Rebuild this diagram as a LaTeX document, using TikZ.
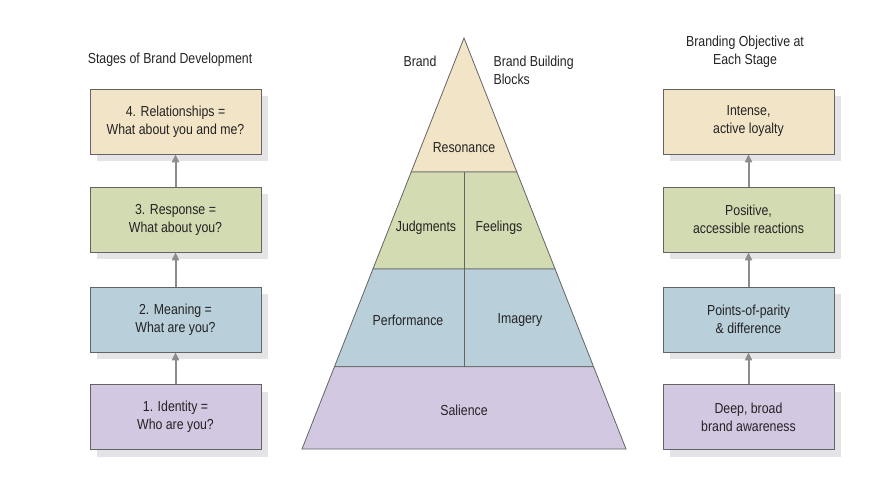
\documentclass[tikz,border=0pt]{standalone}
\usepackage{fontspec}
\setmainfont{Liberation Sans}[FakeStretch=0.85]
\usepackage{tikz}
\usetikzlibrary{arrows.meta,positioning,calc,shadows}
\usepackage{xcolor}
\definecolor{stagetan}{RGB}{242,228,198}
\definecolor{stagegreen}{RGB}{211,219,178}
\definecolor{stageblue}{RGB}{185,207,218}
\definecolor{stagepurple}{RGB}{211,200,226}
\definecolor{edgegrey}{RGB}{100,100,100}
\definecolor{shadegrey}{RGB}{228,228,230}
\definecolor{arrowgrey}{RGB}{140,140,140}
\definecolor{textgrey}{RGB}{35,35,35}
\tikzset{
    sbox/.style={draw=edgegrey, fill=#1, line width=0.8pt,
                 minimum width=171pt, minimum height=65pt,
                 align=center, text=textgrey,
                 font=\fontsize{14.5}{18}\selectfont,
                 drop shadow={shadow xshift=7pt, shadow yshift=-7pt,
                              fill=shadegrey, opacity=1}},
    head/.style={align=center, text=textgrey,
                 font=\fontsize{14.5}{18}\selectfont},
    block/.style={text=textgrey, font=\fontsize{14.5}{18}\selectfont},
    layer/.style={draw=edgegrey, fill=#1, line width=0.8pt},
}

\begin{document}
\begin{tikzpicture}[
    x=1pt, y=-1pt,
    arr/.style={-{Triangle[length=8pt, width=7pt]}, line width=2pt, arrowgrey}
]
    \useasboundingbox (0,0) rectangle (894,482);

    % stages column
    \node[head] (stagehead) at (170,60) {Stages of Brand Development};
    \node[sbox=stagetan] (stage4) at (175.5,121.5) {4. Relationships =\\What about you and me?};
    \node[sbox=stagegreen] (stage3) at (175.5,219.5) {3. Response =\\What about you?};
    \node[sbox=stageblue] (stage2) at (175.5,319.5) {2. Meaning =\\What are you?};
    \node[sbox=stagepurple] (stage1) at (175.5,417) {1. Identity =\\Who are you?};

    \draw[arr] (stage1.north) -- (stage2.south);
    \draw[arr] (stage2.north) -- (stage3.south);
    \draw[arr] (stage3.north) -- (stage4.south);

    % objectives column
    \node[head] (objhead) at (745,52) {Branding Objective at\\Each Stage};
    \node[sbox=stagetan] (obj4) at (748.5,121.5) {Intense,\\active loyalty};
    \node[sbox=stagegreen] (obj3) at (748.5,219.5) {Positive,\\accessible reactions};
    \node[sbox=stageblue] (obj2) at (748.5,319.5) {Points-of-parity\\\& difference};
    \node[sbox=stagepurple] (obj1) at (748.5,417) {Deep, broad\\brand awareness};

    \draw[arr] (obj1.north) -- (obj2.south);
    \draw[arr] (obj2.north) -- (obj3.south);
    \draw[arr] (obj3.north) -- (obj4.south);

    % pyramid
    \coordinate (apex) at (464,38);
    \coordinate (bl) at (302,449);
    \coordinate (br) at (626,449);
    \coordinate (l1) at ($(apex)!0.326!(bl)$);
    \coordinate (r1) at ($(apex)!0.326!(br)$);
    \coordinate (l2) at ($(apex)!0.562!(bl)$);
    \coordinate (r2) at ($(apex)!0.562!(br)$);
    \coordinate (l3) at ($(apex)!0.800!(bl)$);
    \coordinate (r3) at ($(apex)!0.800!(br)$);

    \fill[shadegrey, shift={(6,6)}] (apex) -- (br) -- (bl) -- cycle;
    \draw[layer=stagetan] (apex) -- (r1) -- (l1) -- cycle;
    \draw[layer=stagegreen] (l1) -- (r1) -- (r2) -- (l2) -- cycle;
    \draw[layer=stageblue] (l2) -- (r2) -- (r3) -- (l3) -- cycle;
    \draw[layer=stagepurple] (l3) -- (r3) -- (br) -- (bl) -- cycle;
    \draw[edgegrey, line width=0.8pt] (464,172) -- (464,367);

    \node[block] (resonance) at (464,148) {Resonance};
    \node[block] (judgments) at (426,228) {Judgments};
    \node[block] (feelings) at (499,228) {Feelings};
    \node[block] (performance) at (408,320) {Performance};
    \node[block] (imagery) at (520,320) {Imagery};
    \node[block] (salience) at (464,410) {Salience};

    \node[head] (brandlabel) at (420,61) {Brand};
    \node[head, align=left, anchor=west] (blockslabel) at (490,70) {Brand Building\\Blocks};
\end{tikzpicture}
\end{document}
